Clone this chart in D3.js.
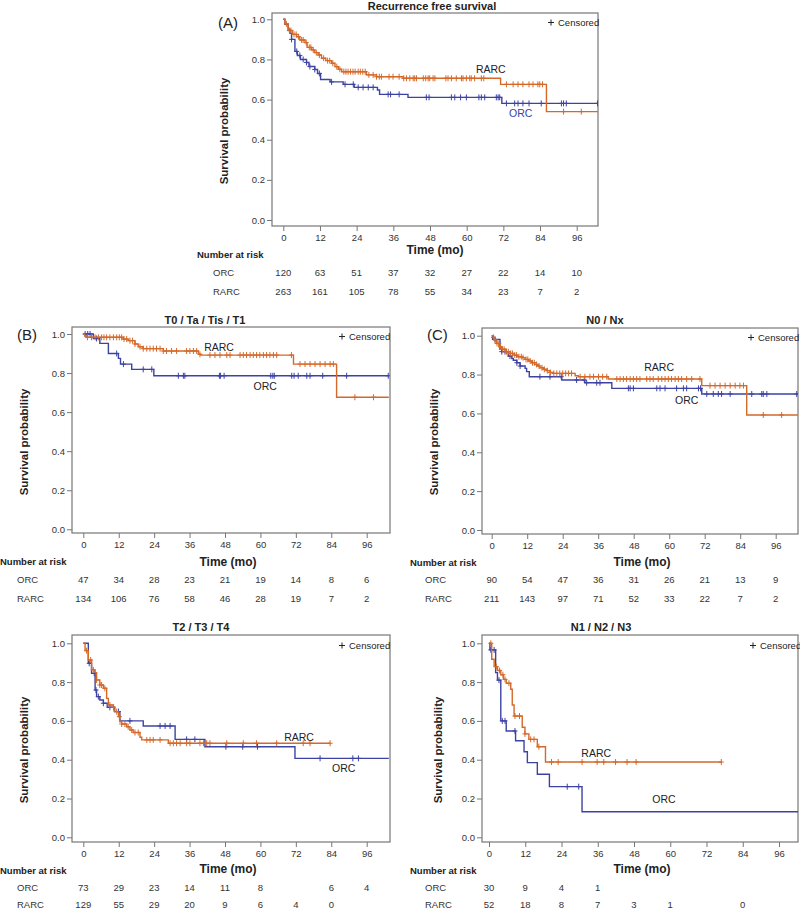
<!DOCTYPE html>
<html><head><meta charset="utf-8">
<script src="https://cdn.jsdelivr.net/npm/d3@7"></script>
<style>
html,body{margin:0;padding:0;background:#fff;}
svg{display:block;font-family:"Liberation Sans",Arial,sans-serif;}
</style></head>
<body><svg id="c" width="800" height="911"></svg>
<script>
// ---------------- DATA ----------------
const X_TICKS = [0, 12, 24, 36, 48, 60, 72, 84, 96];
const Y_TICKS = [0, 0.2, 0.4, 0.6, 0.8, 1.0];
const GROUPS = ["ORC", "RARC"];

// Panel A: Recurrence free survival
const A_ORC_time = [0.5, 1.6, 2.2, 2.7, 3.8, 4.6, 5.6, 7.6, 8.4, 10.3, 11.2, 12.2, 15.3, 19.6, 23.2, 30.8, 31.5, 40.8, 71.5];
const A_ORC_surv = [0.975, 0.95, 0.93, 0.90, 0.84, 0.82, 0.80, 0.785, 0.765, 0.75, 0.73, 0.70, 0.688, 0.676, 0.661, 0.648, 0.626, 0.611, 0.581];
const A_ORC_cens = [2.7, 4.4, 5.4, 6.5, 7.6, 8.7, 10.3, 11.8, 15.8, 20.2, 22.9, 24.5, 26.1, 27.8, 29.4, 34.3, 35.1, 37.9, 46.8, 47.7, 55.0, 56.1, 58.0, 59.9, 64.0, 64.8, 65.9, 69.7, 70.3, 70.8, 73.0, 75.7, 76.8, 78.4, 80.4, 84.4, 91.0, 91.7, 92.6, 102.8];
const A_RARC_time = [0.5, 1.6, 3.0, 4.4, 5.4, 7.1, 7.8, 9.3, 10.3, 11.4, 12.5, 13.9, 15.8, 16.9, 18.0, 19.1, 27.2, 30.5, 39.2, 71.1, 86.1];
const A_RARC_surv = [0.977, 0.944, 0.925, 0.913, 0.897, 0.884, 0.86, 0.847, 0.834, 0.822, 0.806, 0.794, 0.781, 0.764, 0.751, 0.739, 0.723, 0.714, 0.706, 0.676, 0.54];
const A_RARC_cens = [1.0, 2.0, 2.5, 3.5, 4.2, 5.0, 6.0, 6.5, 7.5, 8.5, 9.0, 9.8, 10.8, 11.8, 13.2, 14.5, 15.2, 16.2, 17.5, 18.5, 19.8, 20.5, 21.2, 22.0, 22.8, 23.5, 24.5, 25.2, 26.0, 26.8, 28.0, 29.4, 30.5, 31.4, 32.1, 34.6, 35.9, 37.9, 39.4, 40.3, 41.4, 42.5, 43.0, 43.6, 45.8, 46.6, 47.4, 47.9, 49.0, 49.6, 53.2, 53.9, 55.0, 56.6, 58.3, 58.8, 59.9, 61.0, 61.5, 62.6, 64.8, 65.6, 73.0, 75.2, 76.8, 78.4, 80.4, 81.7, 83.3, 83.9, 84.8, 91.7, 97.5];
const A_followup = [103, 103];
const A_ORC_risk = [120, 63, 51, 37, 32, 27, 22, 14, 10];
const A_RARC_risk = [263, 161, 105, 78, 55, 34, 23, 7, 2];

// Panel B: T0 / Ta / Tis / T1
const B_ORC_time = [3.4, 5.6, 8.5, 11.9, 12.6, 16.4, 23.9];
const B_ORC_surv = [0.977, 0.952, 0.90, 0.875, 0.846, 0.819, 0.786];
const B_ORC_cens = [0.6, 1.5, 2.3, 4.5, 11.3, 13.6, 20.3, 23.2, 32.2, 33.9, 34.4, 46.1, 46.5, 47.7, 63.5, 64.2, 64.7, 70.6, 71.4, 72.8, 75.7, 76.8, 81.1, 89.2, 103.3];
const B_RARC_time = [0.5, 1.0, 13.5, 15.2, 17.5, 18.6, 20.3, 27.1, 39.0, 39.8, 71.2, 85.8];
const B_RARC_surv = [0.991, 0.983, 0.974, 0.966, 0.949, 0.935, 0.925, 0.913, 0.896, 0.892, 0.846, 0.676];
const B_RARC_cens = [1.4, 2.8, 4.0, 5.1, 6.2, 7.0, 7.9, 9.0, 10.2, 11.3, 12.2, 13.0, 13.8, 14.7, 15.8, 16.7, 17.5, 19.2, 20.3, 21.5, 22.6, 23.7, 24.8, 26.0, 27.1, 28.2, 29.9, 31.6, 35.0, 36.1, 37.3, 38.4, 39.5, 42.9, 44.6, 46.3, 48.6, 49.7, 53.1, 54.2, 55.3, 56.5, 57.6, 58.7, 59.8, 61.0, 62.1, 63.2, 64.4, 65.5, 70.5, 73.4, 75.1, 76.8, 78.5, 80.2, 81.9, 83.6, 84.7, 92.0, 98.3];
const B_followup = [103.5, 103.5];
const B_ORC_risk = [47, 34, 28, 23, 21, 19, 14, 8, 6];
const B_RARC_risk = [134, 106, 76, 58, 46, 28, 19, 7, 2];

// Panel C: N0 / Nx
const C_ORC_time = [0.3, 2.8, 3.4, 5.6, 6.8, 7.3, 8.5, 9.6, 11.3, 11.8, 12.7, 23.7, 31.5, 40.6, 71.0];
const C_ORC_surv = [0.981, 0.93, 0.918, 0.895, 0.883, 0.874, 0.861, 0.844, 0.832, 0.815, 0.789, 0.772, 0.758, 0.729, 0.70];
const C_ORC_cens = [1.1, 3.4, 4.5, 6.2, 8.5, 9.6, 16.3, 19.7, 23.5, 28.7, 31.3, 32.1, 35.5, 36.6, 46.2, 46.8, 47.9, 55.8, 56.9, 58.6, 62.5, 64.8, 65.9, 69.9, 70.6, 72.7, 74.9, 76.6, 77.7, 80.6, 87.9, 91.3, 91.8, 93.0, 103.1];
const C_RARC_time = [0.6, 1.1, 1.7, 2.5, 3.4, 4.8, 6.2, 7.5, 8.7, 10.1, 11.3, 12.4, 13.5, 14.6, 15.4, 16.3, 17.5, 18.6, 19.7, 20.8, 28.2, 29.3, 39.4, 71.0, 86.2];
const C_RARC_surv = [0.991, 0.978, 0.96, 0.943, 0.93, 0.918, 0.909, 0.90, 0.892, 0.887, 0.878, 0.87, 0.861, 0.852, 0.844, 0.835, 0.827, 0.82, 0.811, 0.806, 0.794, 0.789, 0.777, 0.743, 0.592];
const C_RARC_cens = [0.6, 1.2, 1.8, 2.4, 3.0, 3.6, 4.2, 5.0, 5.6, 6.4, 7.0, 7.8, 8.4, 9.2, 10.0, 10.6, 11.6, 12.2, 13.0, 13.8, 14.4, 15.2, 16.0, 17.0, 17.8, 18.8, 19.8, 21.0, 22.0, 23.0, 24.0, 25.0, 26.0, 27.0, 29.9, 31.5, 33.2, 34.4, 36.1, 37.5, 38.9, 42.3, 43.4, 44.5, 45.6, 46.8, 47.9, 49.0, 50.1, 52.4, 53.5, 54.6, 56.3, 57.5, 58.6, 59.7, 60.8, 62.0, 63.1, 64.2, 65.9, 67.6, 70.4, 73.8, 75.5, 77.2, 78.9, 80.6, 82.3, 83.9, 85.1, 91.8, 98.0];
const C_followup = [103.5, 103.5];
const C_ORC_risk = [90, 54, 47, 36, 31, 26, 21, 13, 9];
const C_RARC_risk = [211, 143, 97, 71, 52, 33, 22, 7, 2];

// Panel D: T2 / T3 / T4
const D_ORC_time = [1.7, 2.8, 4.0, 4.5, 5.6, 6.8, 8.1, 10.5, 12.4, 20.3, 31.1, 41.2, 71.7];
const D_ORC_surv = [0.897, 0.845, 0.759, 0.725, 0.708, 0.691, 0.67, 0.648, 0.60, 0.574, 0.505, 0.467, 0.407];
const D_ORC_cens = [2.0, 3.7, 4.3, 5.1, 6.8, 9.0, 11.9, 15.8, 26.0, 27.7, 29.4, 35.0, 37.8, 48.3, 54.0, 59.0, 80.2, 91.3, 93.2];
const D_RARC_time = [0.6, 1.7, 2.8, 4.0, 4.5, 5.6, 6.8, 7.9, 8.5, 10.2, 10.7, 11.9, 12.4, 13.0, 14.7, 15.8, 16.9, 19.2, 19.8, 28.8];
const D_RARC_surv = [0.962, 0.914, 0.863, 0.849, 0.811, 0.785, 0.768, 0.716, 0.682, 0.67, 0.648, 0.622, 0.596, 0.584, 0.57, 0.553, 0.54, 0.516, 0.502, 0.485];
const D_RARC_cens = [1.1, 2.5, 3.4, 4.5, 5.6, 6.2, 7.3, 9.0, 10.2, 11.3, 12.2, 13.0, 14.1, 15.2, 16.4, 17.5, 18.6, 21.5, 22.6, 23.7, 26.0, 29.4, 30.5, 31.6, 32.8, 35.0, 36.1, 39.5, 40.7, 41.8, 42.9, 48.6, 54.2, 58.7, 65.5, 74.5, 76.8, 83.6];
const D_followup = [103.5, 83.6];
const D_ORC_risk = [73, 29, 23, 14, 11, 8, null, 6, 4];
const D_RARC_risk = [129, 55, 29, 20, 9, 6, 4, 0, null];

// Panel E: N1 / N2 / N3
const E_ORC_time = [0.3, 2.2, 2.8, 3.9, 5.7, 8.8, 11.6, 12.7, 16.0, 20.0, 30.8];
const E_ORC_surv = [0.966, 0.849, 0.81, 0.60, 0.548, 0.498, 0.441, 0.385, 0.325, 0.261, 0.132];
const E_ORC_cens = [0.6, 1.7, 3.3, 4.4, 5.3, 8.6, 25.9, 29.7];
const E_RARC_time = [0.9, 1.7, 2.8, 3.9, 4.8, 5.7, 7.2, 7.7, 8.3, 11.0, 11.9, 13.2, 16.0, 18.7];
const E_RARC_surv = [0.918, 0.88, 0.86, 0.838, 0.814, 0.794, 0.763, 0.682, 0.625, 0.567, 0.533, 0.505, 0.467, 0.388];
const E_RARC_cens = [0.6, 2.4, 3.5, 4.6, 5.3, 6.6, 8.6, 10.1, 11.9, 13.8, 14.9, 16.5, 20.7, 22.9, 30.8, 35.8, 38.0, 41.9, 45.7, 48.7, 76.9];
const E_followup = [103, 77];
const E_ORC_risk = [30, 9, 4, 1, null, null, null, null, null];
const E_RARC_risk = [52, 18, 8, 7, 3, 1, null, 0, null];

// ---------------- LAYOUT ----------------
const COLORS = { ORC: "#3d43a3", RARC: "#d4692a" };
const svg = d3.select("#c");

const panels = [
  { title: "Recurrence free survival", tag: "(A)", titleX: 432, titleY: 10,
    L: 272, R: 598, T: 13, B: 226, x0: 283.3, x96: 576.7, y1: 19.3, y0: 220,
    tagX: 218, tagY: 28, ylabX: 228, ylabY: 131, tickR: 264,
    timeX: 435, timeY: 254, narX: 197, narY: 258, grpX: 213, rowY: [276, 295],
    legX: 551, legY: 26,
    data: { ORC: [A_ORC_time, A_ORC_surv, A_ORC_cens, A_ORC_risk], RARC: [A_RARC_time, A_RARC_surv, A_RARC_cens, A_RARC_risk] },
    follow: A_followup, lab: { RARC: [67.9, 0.752], ORC: [77.7, 0.535] }, orcBlue: true },
  { title: "T0 / Ta / Tis / T1", tag: "(B)", titleX: 205, titleY: 324,
    L: 72, R: 390, T: 327, B: 533, x0: 83.3, x96: 366.7, y1: 334, y0: 529.3,
    tagX: 17, tagY: 340, ylabX: 28, ylabY: 442, tickR: 65,
    timeX: 228, timeY: 566, narX: 0, narY: 565, grpX: 17, rowY: [583, 602],
    legX: 342, legY: 340,
    data: { ORC: [B_ORC_time, B_ORC_surv, B_ORC_cens, B_ORC_risk], RARC: [B_RARC_time, B_RARC_surv, B_RARC_cens, B_RARC_risk] },
    follow: B_followup, lab: { RARC: [46, 0.935], ORC: [61.6, 0.734] } },
  { title: "N0 / Nx", tag: "(C)", titleX: 605, titleY: 324,
    L: 482, R: 798, T: 328, B: 534, x0: 491.7, x96: 775.7, y1: 335.7, y0: 530,
    tagX: 427, tagY: 340, ylabX: 438, ylabY: 442, tickR: 474,
    timeX: 642, timeY: 566, narX: 410, narY: 566, grpX: 425, rowY: [583, 602],
    legX: 751, legY: 341,
    data: { ORC: [C_ORC_time, C_ORC_surv, C_ORC_cens, C_ORC_risk], RARC: [C_RARC_time, C_RARC_surv, C_RARC_cens, C_RARC_risk] },
    follow: C_followup, lab: { RARC: [56.6, 0.84], ORC: [65.9, 0.669] } },
  { title: "T2 / T3 / T4", tag: "", titleX: 201, titleY: 631,
    L: 72, R: 390, T: 635, B: 842, x0: 83.3, x96: 366.7, y1: 643.3, y0: 837.3,
    ylabX: 28, ylabY: 750, tickR: 65,
    timeX: 228, timeY: 873, narX: 0, narY: 874, grpX: 17, rowY: [891, 908],
    legX: 342, legY: 649,
    data: { ORC: [D_ORC_time, D_ORC_surv, D_ORC_cens, D_ORC_risk], RARC: [D_RARC_time, D_RARC_surv, D_RARC_cens, D_RARC_risk] },
    follow: D_followup, lab: { RARC: [73.1, 0.519], ORC: [88.2, 0.356] } },
  { title: "N1 / N2 / N3", tag: "", titleX: 601, titleY: 631,
    L: 482, R: 798, T: 635, B: 842, x0: 489, x96: 779, y1: 643.3, y0: 837.3,
    ylabX: 442, ylabY: 750, tickR: 475,
    timeX: 642, timeY: 873, narX: 410, narY: 874, grpX: 425, rowY: [891, 908],
    legX: 753, legY: 649,
    data: { ORC: [E_ORC_time, E_ORC_surv, E_ORC_cens, E_ORC_risk], RARC: [E_RARC_time, E_RARC_surv, E_RARC_cens, E_RARC_risk] },
    follow: E_followup, lab: { RARC: [35.5, 0.436], ORC: [57.9, 0.196] } }
];

function survAt(times, survs, t) {
  let s = 1;
  for (let i = 0; i < times.length; i++) { if (times[i] <= t) s = survs[i]; else break; }
  return s;
}

panels.forEach(p => {
  const x = d3.scaleLinear().domain([0, 96]).range([p.x0, p.x96]);
  const y = d3.scaleLinear().domain([0, 1]).range([p.y0, p.y1]);
  const g = svg.append("g");

  // title
  g.append("text").attr("x", p.titleX).attr("y", p.titleY).attr("text-anchor", "middle")
    .attr("font-size", 11).attr("font-weight", "bold").attr("fill", "#222").text(p.title);
  if (p.tag) g.append("text").attr("x", p.tagX).attr("y", p.tagY).attr("font-size", 15)
    .attr("fill", "#222").text(p.tag);

  // frame
  g.append("rect").attr("x", p.L).attr("y", p.T).attr("width", p.R - p.L).attr("height", p.B - p.T)
    .attr("fill", "none").attr("stroke", "#777").attr("stroke-width", 1.2);

  // axes
  const yAx = g.append("g").attr("transform", `translate(${p.L},0)`)
    .call(d3.axisLeft(y).tickValues(Y_TICKS).tickFormat(d3.format(".1f")).tickSize(5).tickPadding(2));
  const xAx = g.append("g").attr("transform", `translate(0,${p.B})`)
    .call(d3.axisBottom(x).tickValues(X_TICKS).tickFormat(d3.format("d")).tickSize(5).tickPadding(3));
  [yAx, xAx].forEach(a => {
    a.select(".domain").remove();
    a.selectAll("line").attr("stroke", "#777");
    a.selectAll("text").attr("font-size", 9.5).attr("fill", "#333")
      .attr("font-family", "'Liberation Sans', Arial, sans-serif");
  });

  // axis labels
  g.append("text").attr("transform", `translate(${p.ylabX},${p.ylabY}) rotate(-90)`)
    .attr("text-anchor", "middle").attr("font-size", 11.5).attr("font-weight", "bold").attr("fill", "#222")
    .text("Survival probability");
  g.append("text").attr("x", p.timeX).attr("y", p.timeY).attr("text-anchor", "middle")
    .attr("font-size", 12).attr("font-weight", "bold").attr("fill", "#222").text("Time (mo)");

  // curves
  const clip = "clip" + p.L + "_" + p.T;
  g.append("clipPath").attr("id", clip).append("rect")
    .attr("x", p.L).attr("y", p.T).attr("width", p.R - p.L).attr("height", p.B - p.T);
  const cg = g.append("g").attr("clip-path", `url(#${clip})`);
  const line = d3.line().x(d => x(d[0])).y(d => y(d[1])).curve(d3.curveStepAfter);

  GROUPS.forEach((grp, gi) => {
    const [times, survs, cens] = p.data[grp];
    const pts = [[0, 1]];
    times.forEach((t, i) => pts.push([t, survs[i]]));
    pts.push([p.follow[gi], survs[survs.length - 1]]);
    cg.append("path").datum(pts).attr("d", line).attr("fill", "none")
      .attr("stroke", COLORS[grp]).attr("stroke-width", 1.4);
    cg.selectAll(null).data(cens).enter().append("path")
      .attr("d", t => {
        const cx = x(t), cy = y(survAt(times, survs, t));
        return `M${cx - 2.5},${cy}H${cx + 2.5}M${cx},${cy - 3}V${cy + 3}`;
      })
      .attr("stroke", COLORS[grp]).attr("stroke-width", 1).attr("fill", "none");
  });

  // group labels in plot
  GROUPS.forEach(grp => {
    const [lx, ly] = p.lab[grp];
    g.append("text").attr("x", x(lx)).attr("y", y(ly) + 4).attr("text-anchor", "middle")
      .attr("font-size", 10.5).attr("fill", (grp === "ORC" && p.orcBlue) ? COLORS.ORC : "#222")
      .text(grp);
  });

  // censored legend
  g.append("path").attr("d", `M${p.legX - 3},${p.legY - 3.5}h6M${p.legX},${p.legY - 6.5}v6`)
    .attr("stroke", "#222").attr("stroke-width", 1);
  g.append("text").attr("x", p.legX + 7).attr("y", p.legY).attr("font-size", 9.5).attr("fill", "#222")
    .text("Censored");

  // number at risk table
  g.append("text").attr("x", p.narX).attr("y", p.narY).attr("font-size", 9.5).attr("font-weight", "bold")
    .attr("fill", "#222").text("Number at risk");
  GROUPS.forEach((grp, gi) => {
    const risk = p.data[grp][3];
    g.append("text").attr("x", p.grpX).attr("y", p.rowY[gi]).attr("font-size", 9.5).attr("fill", "#333").text(grp);
    g.selectAll(null).data(X_TICKS.map((t, i) => [t, risk[i]]).filter(d => d[1] !== null)).enter()
      .append("text").attr("x", d => x(d[0])).attr("y", p.rowY[gi]).attr("text-anchor", "middle")
      .attr("font-size", 9.5).attr("fill", "#333").text(d => d[1]);
  });
});
</script></body></html>
